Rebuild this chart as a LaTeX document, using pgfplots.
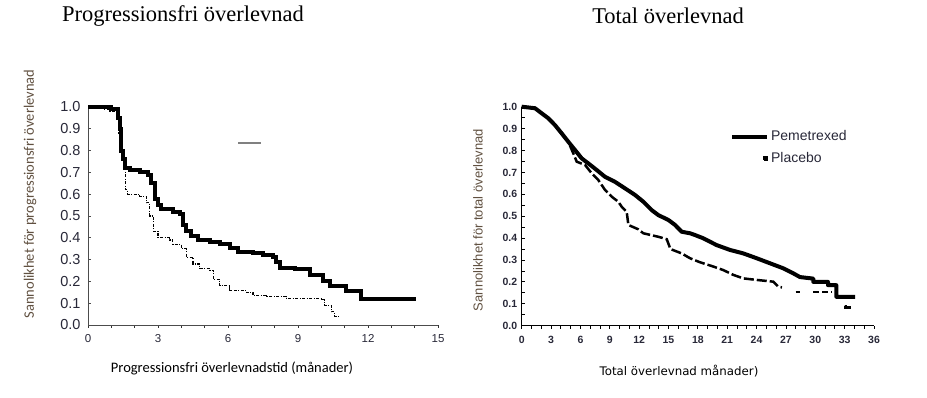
\documentclass[border=0pt]{standalone}
\usepackage{pgfplots}
\pgfplotsset{compat=1.18}
\usepackage{fontspec}
\setmainfont{Liberation Serif}
\newfontfamily\arial{Liberation Sans}
\newfontfamily\calib{Carlito}
\newfontfamily\verd{DejaVu Sans}
\definecolor{labbrown}{RGB}{96,80,64}
\definecolor{tickdark}{RGB}{40,40,56}
\begin{document}
\begin{tikzpicture}[x=1pt,y=1pt]
\path[use as bounding box] (0,0) rectangle (927,398);
% titles
\node[font=\fontsize{22.5}{22.5}\selectfont] at (183,382) {Progressionsfri överlevnad};
\node[font=\fontsize{22.5}{22.5}\selectfont] at (668,382) {Total överlevnad};
% axis labels
\node[rotate=90,text=labbrown,font=\calib\fontsize{14.5}{14.5}\selectfont] at (30,204) {Sannolikhet för progressionsfri överlevnad};
\node[font=\calib\fontsize{14.5}{14.5}\selectfont] at (232,30) {Progressionsfri överlevnadstid (månader)};
\node[rotate=90,text=labbrown,font=\arial\fontsize{13}{13}\selectfont] at (478,178) {Sannolikhet för total överlevnad};
\node[font=\verd\fontsize{11.8}{11.8}\selectfont] at (679,27) {Total överlevnad månader)};

\begin{axis}[
  at={(88pt,73pt)}, anchor=south west,
  scale only axis, width=350pt, height=218pt,
  xmin=0, xmax=15, ymin=0, ymax=1,
  axis lines*=left, clip=false,
  axis line style={draw=black!70, line width=0.8pt},
  xtick={0,3,6,9,12,15}, xticklabels={0,3,6,9,12,15},
  minor xtick={1,2,4,5,7,8,10,11,13,14},
  ytick={0,0.1,0.2,0.3,0.4,0.5,0.6,0.7,0.8,0.9,1.0},
  yticklabels={0.0,0.1,0.2,0.3,0.4,0.5,0.6,0.7,0.8,0.9,1.0},
  x tick style={draw=black!80, line width=0.8pt}, 
  xtick align=outside, ytick align=inside,
  major tick length=3pt, minor tick length=3pt,
  y tick style={draw=black!70, line width=0.6pt},
  xticklabel style={font=\arial\fontsize{11.5}{11.5}\selectfont, text=tickdark, yshift=-3pt},
  yticklabel style={font=\arial\fontsize{14.5}{14.5}\selectfont, text=tickdark, xshift=-4pt},
]
\addplot[const plot, black, line width=4pt] coordinates {
(0,1.0) (1.0,0.99) (1.29,0.95) (1.36,0.90) (1.43,0.80) (1.5,0.76) (1.57,0.72)
(1.79,0.71) (2.21,0.70) (2.57,0.69) (2.71,0.65) (2.86,0.58) (3.0,0.55) (3.14,0.53)
(3.64,0.52) (3.93,0.51) (4.07,0.46) (4.21,0.43) (4.43,0.41) (4.71,0.39) (5.21,0.38)
(5.64,0.37) (6.07,0.355) (6.43,0.335) (7.07,0.33) (7.5,0.32) (7.93,0.31) (8.07,0.29)
(8.21,0.26) (8.86,0.255) (9.5,0.23) (10.07,0.20) (10.36,0.18) (11.07,0.155) (11.71,0.12) (14.07,0.12)
};
\addplot[const plot, black, line width=1.1pt, dash pattern=on 3pt off 1.5pt on 1pt off 1.5pt] coordinates {
(0,1.0) (0.64,0.99) (0.93,0.98) (1.21,0.95) (1.33,0.88) (1.43,0.78) (1.53,0.72)
(1.61,0.62) (1.71,0.60) (2.21,0.59) (2.5,0.56) (2.64,0.50) (2.79,0.43) (3.0,0.40)
(3.5,0.39) (3.64,0.37) (4.0,0.35) (4.21,0.31) (4.5,0.28) (4.79,0.26) (5.21,0.25)
(5.36,0.21) (5.64,0.18) (6.07,0.16) (6.79,0.15) (7.07,0.135) (7.64,0.13) (8.5,0.12)
(10.0,0.115) (10.14,0.09) (10.43,0.06) (10.57,0.04) (10.79,0.04)
};
\end{axis}
\draw[gray, line width=2pt] (238,255) -- (261,255);

\begin{axis}[
  at={(521.7pt,72.3pt)}, anchor=south west,
  scale only axis, width=352.3pt, height=219pt,
  xmin=0, xmax=36, ymin=0, ymax=1,
  axis lines*=left, clip=false,
  axis line style={draw=black, line width=1pt},
  xtick={0,3,...,36}, xticklabels={0,3,6,9,12,15,18,21,24,27,30,33,36},
  minor x tick num=2,
  ytick={0,0.1,0.2,0.3,0.4,0.5,0.6,0.7,0.8,0.9,1.0},
  yticklabels={0.0,0.1,0.2,0.3,0.4,0.5,0.6,0.7,0.8,0.9,1.0},
  minor y tick num=1,
  xtick align=outside, ytick align=inside,
  major tick length=3pt, minor tick length=3pt,
  tick style={draw=black, line width=0.8pt},
  xticklabel style={font=\arial\bfseries\fontsize{10.5}{10.5}\selectfont, text=tickdark, yshift=-4pt},
  yticklabel style={font=\arial\bfseries\fontsize{10.5}{10.5}\selectfont, text=tickdark, xshift=-1pt},
  legend style={draw=none, fill=none, at={(rel axis cs:0.591,0.90)}, anchor=north west,
    font=\arial\fontsize{14}{14}\selectfont, text=tickdark, inner sep=0pt, row sep=6pt,
    cells={anchor=west}},
  legend cell align=left,
]
\addplot[black, line width=4pt, line join=round,
  legend image code/.code={\draw[line width=4pt] (0pt,0pt) -- (35pt,0pt);}] coordinates {
(0,1.0) (1.36,0.993) (2.04,0.97) (2.72,0.947) (3.40,0.916) (4.09,0.878) (4.76,0.84)
(5.45,0.802) (6.13,0.764) (6.81,0.741) (7.66,0.711) (8.51,0.68) (9.53,0.657)
(10.56,0.627) (11.58,0.597) (12.43,0.566) (13.28,0.528) (13.96,0.505) (14.98,0.483)
(15.67,0.46) (16.35,0.429) (17.2,0.422) (17.71,0.414) (18.56,0.399) (19.92,0.368)
(21.28,0.346) (22.65,0.33) (24.01,0.308) (25.37,0.285) (26.73,0.262) (27.75,0.239)
(28.44,0.222) (29.8,0.215) (29.8,0.20) (31.3,0.20) (31.3,0.185) (32.15,0.185)
(32.15,0.132) (34.06,0.132)
};
\addlegendentry{Pemetrexed}
\addplot[black, line width=2.5pt, dash pattern=on 10pt off 3pt,
  legend image code/.code={\fill (31.8pt,-1.3pt) rectangle (34.4pt,1.3pt);}] coordinates {
(0,1.0) (1.36,0.993) (2.04,0.97) (2.72,0.947) (3.40,0.916) (4.09,0.878) (4.76,0.84)
(5.27,0.787) (5.62,0.749) (6.47,0.734) (7.15,0.696) (7.83,0.665) (8.51,0.62)
(9.2,0.589) (9.87,0.566) (10.22,0.543) (10.73,0.52) (10.9,0.46) (11.92,0.44)
(12.43,0.422) (13.96,0.406) (14.82,0.395) (15.2,0.35) (16.35,0.33) (17.2,0.308)
(18.2,0.29) (19.58,0.27) (20.6,0.254) (21.62,0.232) (22.65,0.216)
(24.01,0.209) (25.71,0.201) (26.22,0.178) (26.6,0.175)
};
\addlegendentry{Placebo}
\addplot[const plot, black, line width=2.5pt, forget plot] coordinates {
(28.0,0.155) (28.4,0.155)
};
\addplot[const plot, black, line width=2.5pt, dash pattern=on 6pt off 3pt, forget plot] coordinates {
(29.8,0.153) (31.7,0.153)
};
\addplot[const plot, black, line width=2.5pt, forget plot] coordinates {
(33.0,0.09) (33.1,0.082) (33.7,0.082)
};
\end{axis}
\end{tikzpicture}
\end{document}
